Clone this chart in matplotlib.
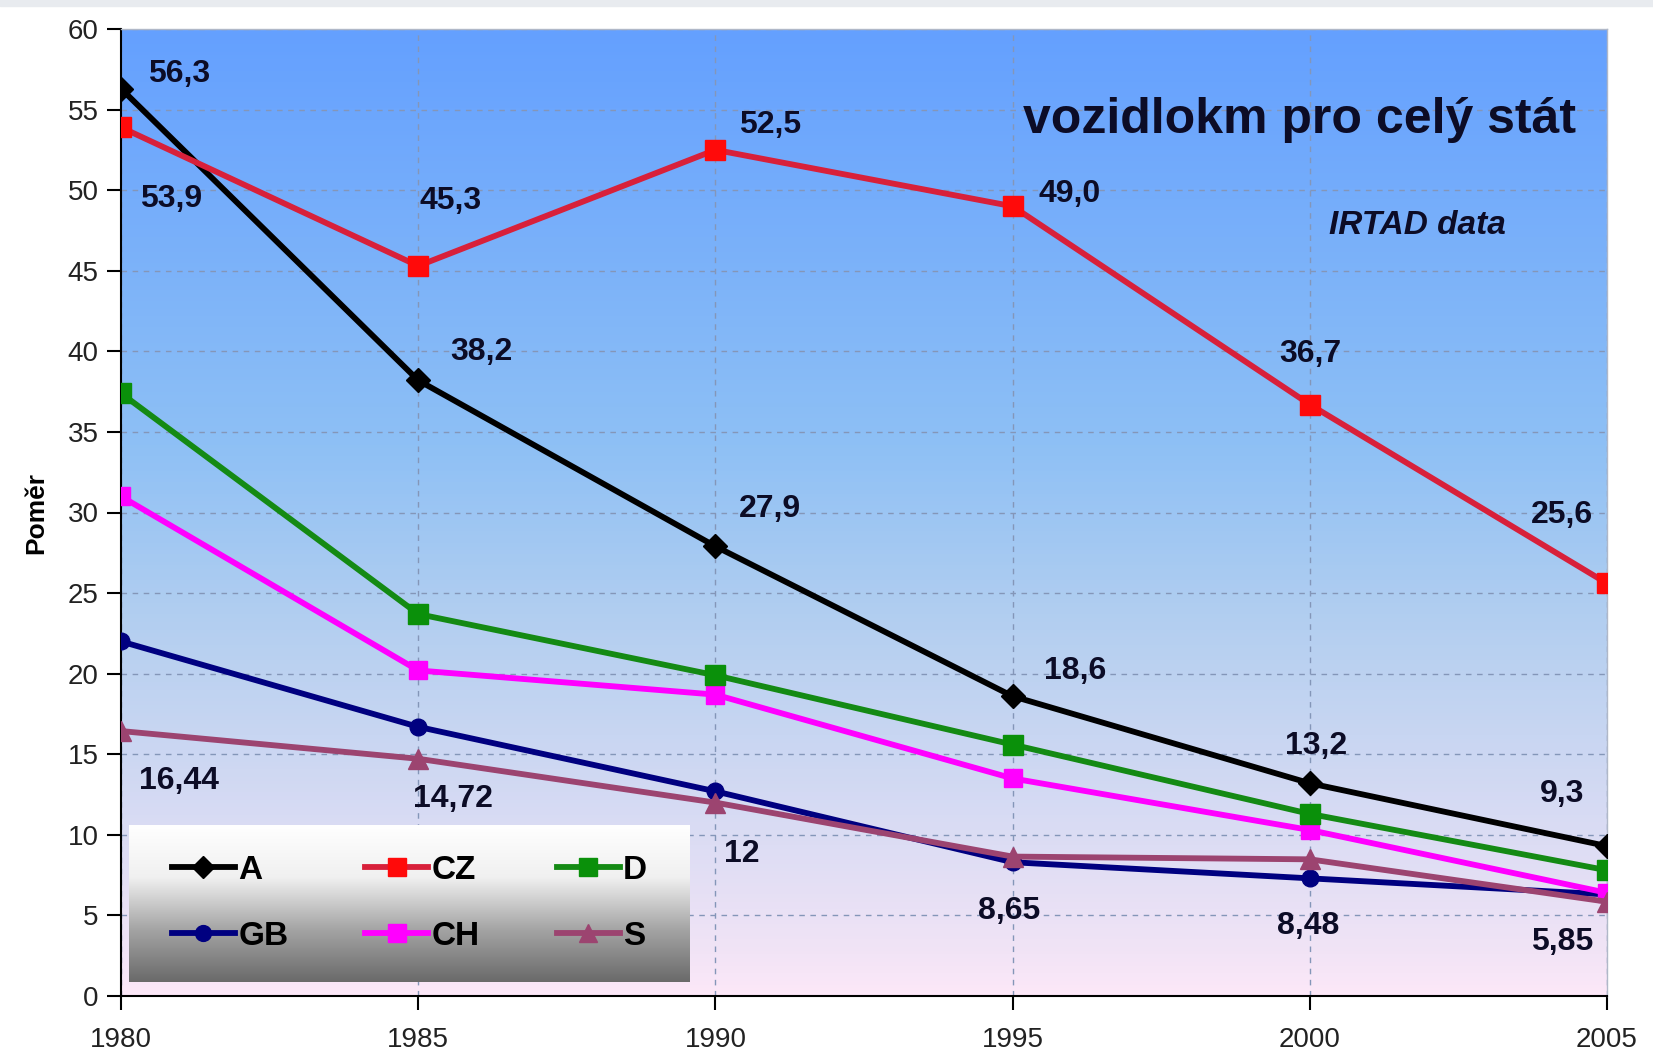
import numpy as np
import matplotlib
matplotlib.use("Agg")
import matplotlib.pyplot as plt
from matplotlib.colors import LinearSegmentedColormap

plt.rcParams['font.family'] = ['Liberation Sans', 'DejaVu Sans']

roky = [1980, 1985, 1990, 1995, 2000, 2005]
serie_A = [56.3, 38.2, 27.9, 18.6, 13.2, 9.3]
serie_CZ = [53.9, 45.3, 52.5, 49.0, 36.7, 25.6]
serie_D = [37.4, 23.7, 19.9, 15.6, 11.3, 7.8]
serie_GB = [22.0, 16.7, 12.7, 8.3, 7.3, 6.3]
serie_CH = [31.0, 20.2, 18.7, 13.5, 10.3, 6.4]
serie_S = [16.44, 14.72, 12.0, 8.65, 8.48, 5.85]

popisky_A = ["56,3", "38,2", "27,9", "18,6", "13,2", "9,3"]
popisky_CZ = ["53,9", "45,3", "52,5", "49,0", "36,7", "25,6"]
popisky_S = ["16,44", "14,72", "12", "8,65", "8,48", "5,85"]

# posuny popisku v pixelech
pos_A = [(58, 15), (63, 28), (55, 37), (63, 25), (6, 37), (-45, 52)]
pos_CZ = [(50, -72), (32, 65), (55, 25), (57, 12), (1, 51), (-45, 68)]
pos_S = [(58, -50), (35, -40), (26, -51), (-3, -54), (-2, -67), (-45, -40)]

fig = plt.figure(figsize=(16.53, 10.56), dpi=100)
fig.patch.set_facecolor('white')
# sedy pruh nahore
fig.patches.append(plt.Rectangle((0, 1 - 6 / 1056), 1, 6 / 1056, transform=fig.transFigure,
                                 color='#e8ebef', zorder=0))

ax = fig.add_axes([121 / 1653, 1 - 996 / 1056, (1607 - 121) / 1653, (996 - 29) / 1056])

# gradient pozadi
cm = LinearSegmentedColormap.from_list('bg', [
    (0.0, (252 / 255, 232 / 255, 248 / 255)),
    (0.04, (242 / 255, 228 / 255, 246 / 255)),
    (0.38, (180 / 255, 207 / 255, 240 / 255)),
    (0.57, (142 / 255, 192 / 255, 245 / 255)),
    (1.0, (100 / 255, 160 / 255, 255 / 255)),
])
grad = np.linspace(0, 1, 256).reshape(-1, 1)
ax.imshow(grad, cmap=cm, origin='lower', aspect='auto',
          extent=[1980, 2005, 0, 60], zorder=-2)

ax.set_xlim(1980, 2005)
ax.set_ylim(0, 60)
ax.set_xticks(roky)
ax.set_yticks(range(0, 61, 5))
ax.grid(True, color='#8496b8', linestyle=(0, (4, 4)), linewidth=1.0)
ax.set_axisbelow(True)

for s in ['top', 'right']:
    ax.spines[s].set_color('#b0b8c8')
    ax.spines[s].set_linewidth(1.0)
for s in ['left', 'bottom']:
    ax.spines[s].set_color('black')
    ax.spines[s].set_linewidth(1.5)

ax.tick_params(axis='both', direction='out', length=10, width=1.5, labelsize=20,
               labelcolor='#222222', pad=6)
ax.tick_params(axis='x', pad=12)
ax.set_ylabel('Poměr', fontsize=19, fontweight='bold', labelpad=14)

lw = 4.2
lA, = ax.plot(roky, serie_A, color='black', marker='D', markersize=12, lw=lw, label='A', zorder=6)
lCZ, = ax.plot(roky, serie_CZ, color='#d8203a', marker='s', markersize=14,
               markerfacecolor='#ff0a0a', markeredgecolor='#ff0a0a', lw=lw, label='CZ', zorder=6)
lD, = ax.plot(roky, serie_D, color='#148a14', marker='s', markersize=14,
              markerfacecolor='#0a900a', markeredgecolor='#0a900a', lw=lw, label='D', zorder=5)
lGB, = ax.plot(roky, serie_GB, color='#000080', marker='o', markersize=12, lw=lw, label='GB', zorder=4)
lCH, = ax.plot(roky, serie_CH, color='#ff00ff', marker='s', markersize=13, lw=lw, label='CH', zorder=4)
lS, = ax.plot(roky, serie_S, color='#9c4470', marker='^', markersize=14, lw=lw, label='S', zorder=4)

barva_txt = '#0c0c26'
for serie, popisky, posuny in [(serie_A, popisky_A, pos_A), (serie_CZ, popisky_CZ, pos_CZ),
                               (serie_S, popisky_S, pos_S)]:
    for x, y, t, (dx, dy) in zip(roky, serie, popisky, posuny):
        ax.annotate(t, (x, y), xytext=(dx, dy), textcoords='offset pixels',
                    ha='center', va='center', fontsize=23, fontweight='bold',
                    color=barva_txt, zorder=8, annotation_clip=False)

ax.text(0.979, 0.906, 'vozidlokm pro celý stát', transform=ax.transAxes, ha='right', va='center',
        fontsize=36, fontweight='bold', color=barva_txt)
ax.text(0.932, 0.797, 'IRTAD data', transform=ax.transAxes, ha='right', va='center',
        fontsize=24, fontweight='bold', style='italic', color=barva_txt)

# legenda s gradientem
lax = fig.add_axes([129 / 1653, 1 - 982 / 1056, (690 - 129) / 1653, (982 - 825) / 1056], zorder=5)
cm2 = LinearSegmentedColormap.from_list('leg', ['#6a6a6a', '#a4a4a4', '#f0f0f0', '#ffffff'])
lax.imshow(np.linspace(0, 1, 256).reshape(-1, 1), cmap=cm2, origin='lower', aspect='auto',
           extent=[0, 1, 0, 1])
lax.set_xlim(0, 1)
lax.set_ylim(0, 1)
lax.set_xticks([])
lax.set_yticks([])
for s in lax.spines.values():
    s.set_visible(False)
# ncol plni po sloupcich -> poradi A,GB,CZ,CH,D,S
lax.legend([lA, lGB, lCZ, lCH, lD, lS], ['A', 'GB', 'CZ', 'CH', 'D', 'S'], loc='center', ncol=3,
           frameon=False, prop={'size': 24, 'weight': 'bold'}, handlelength=1.9, handletextpad=0.1,
           columnspacing=2.3, labelspacing=1.05, markerscale=0.95)

fig.savefig('out.png', dpi=100)
